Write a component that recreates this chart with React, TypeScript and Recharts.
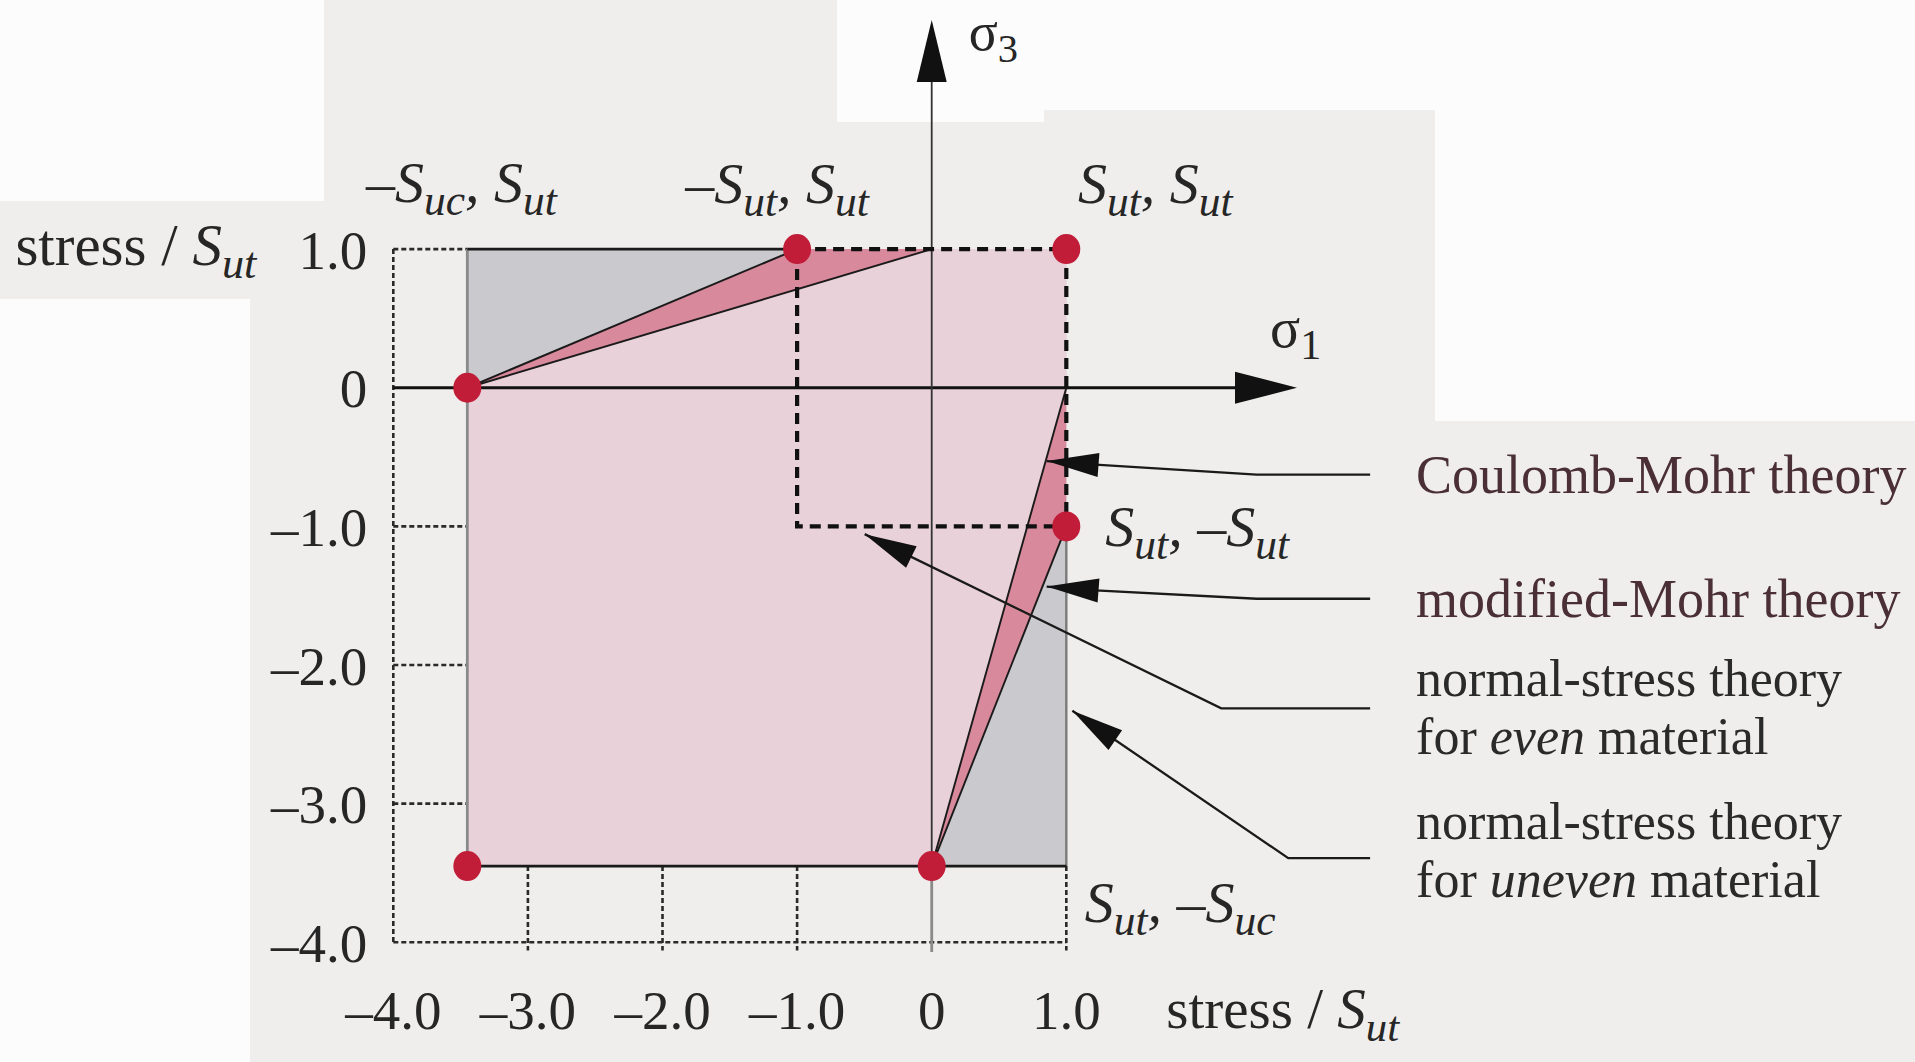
import React from "react";
import { ComposedChart, XAxis, YAxis, Area, Line, Scatter, ReferenceDot } from "recharts";

// strengths normalised by S_ut
const SUT = 1.0;
const SUC = 3.45;

const xTicks = [-4, -3, -2, -1, 0, 1];
const yTicks = [-4, -3, -2, -1, 0, 1];

// red corner points of the failure envelopes
const cornerX = [-SUC, -SUT, SUT, SUT, -SUC, 0];
const cornerY = [0, SUT, SUT, -SUT, -SUC, -SUC];

// labels: "~" italic, "_" italic subscript, "." upright subscript
const cornerLabels: { at: number; parts: string[]; dx: number; dy: number; anchor: string }[] = [
  { at: 0, parts: ["~–S", "_uc", "~, S", "_ut"], dx: -6, dy: -186, anchor: "middle" },
  { at: 1, parts: ["~–S", "_ut", "~, S", "_ut"], dx: -20, dy: -46, anchor: "middle" },
  { at: 2, parts: ["~S", "_ut", "~, S", "_ut"], dx: 89, dy: -46, anchor: "middle" },
  { at: 3, parts: ["~S", "_ut", "~, –S", "_ut"], dx: 39, dy: 20, anchor: "start" },
  { at: 5, parts: ["~S", "_ut", "~, –S", "_uc"], dx: 153, dy: 56, anchor: "start" },
];

// annotation call-outs (data units), tip is last point
const theoryNames = [
  ["Coulomb-Mohr theory"],
  ["modified-Mohr theory"],
  ["normal-stress theory", "for |~even| material"],
  ["normal-stress theory", "for |~uneven| material"],
];
const calloutX = [
  [3.257, 2.414, 1.217, 0.854],
  [3.257, 2.414, 1.217, 0.854],
  [3.257, 2.151, -0.498],
  [3.257, 2.649, 1.045],
];
const calloutY = [
  [-0.626, -0.626, -0.555, -0.529],
  [-1.522, -1.522, -1.461, -1.434],
  [-2.312, -2.312, -1.056],
  [-3.393, -3.393, -2.33],
];
const calloutAngle = [184.3, 184.3, 206.1, 214.4];
const calloutTextDy = [18, 18, -12, -19];
const calloutSize = [54, 54, 52, 52];
const calloutColor = ["#4a2f36", "#4a2f36", "#2a2a2a", "#2a2a2a"];

const SIGMA1_TIP = 2.714;
const SIGMA3_TIP = 2.652;

const SERIF = '"Liberation Serif", "Times New Roman", serif';
const INK = "#262626";
const RED = "#c11d38";
const GRAY_BOX = "#c9c9ce";
const PINK = "#e8d1d8";
const PINK_DARK = "#d9899c";

const pts = (xs: number[], ys: number[]) => xs.map((x, i) => ({ x, y: ys[i] }));

const grayBox = [
  { x: -SUC, r: [-SUC, SUT] },
  { x: SUT, r: [-SUC, SUT] },
];
const mohrWedgeTop = [
  { x: -SUC, r: [0, 0] },
  { x: -SUT, r: [0, SUT] },
  { x: 0, r: [0, SUT] },
];
const coulombRegion = [
  { x: -SUC, r: [-SUC, 0] },
  { x: 0, r: [-SUC, SUT] },
  { x: SUT, r: [0, SUT] },
];
const mohrWedgeBottom = [
  { x: 0, r: [-SUC, -SUC] },
  { x: SUT, r: [-SUT, 0] },
];

const coulombLines = [pts([-SUC, 0], [0, SUT]), pts([0, SUT], [-SUC, 0])];
const mohrLines = [pts([-SUC, -SUT], [0, SUT]), pts([0, SUT], [-SUC, -SUT])];
const evenSquare = pts([-SUT, SUT, SUT, -SUT, -SUT], [SUT, SUT, -SUT, -SUT, SUT]);

const dotted = [
  ...yTicks.filter((v) => v !== 0 && v !== -4).map((v) => pts([-4, -SUC], [v, v])),
  pts([-4, -4], [SUT, -4]),
  pts([-4, SUT], [-4, -4]),
  ...[-3, -2, -1, 1].map((v) => pts([v, v], [-SUC, -4.06])),
];

// one <text>, several lines; each line is a list of marked-up parts
function Rich({ x, y, lines, size, anchor = "start", fill = INK, gap = 58 }: any) {
  const out: React.ReactNode[] = [];
  lines.forEach((parts: string[], li: number) => {
    let down = false;
    parts.forEach((p: string, i: number) => {
      const kind = p[0];
      const first = i === 0 && li > 0;
      const key = li + "_" + i;
      if (kind === "_" || kind === ".") {
        const dy = down ? 0 : size * 0.22;
        down = true;
        out.push(
          <tspan key={key} dy={dy} fontSize={size * 0.75} fontStyle={kind === "_" ? "italic" : "normal"}>
            {p.slice(1)}
          </tspan>
        );
        return;
      }
      const dy = (down ? -size * 0.22 : 0) + (first ? gap : 0);
      down = false;
      const italic = kind === "~";
      out.push(
        <tspan key={key} x={first ? x : undefined} dy={dy} fontStyle={italic ? "italic" : "normal"}>
          {italic ? p.slice(1) : p}
        </tspan>
      );
    });
  });
  return (
    <text x={x} y={y} textAnchor={anchor} fontFamily={SERIF} fontSize={size} fill={fill}>
      {out}
    </text>
  );
}

const textAt = (lines: string[][], dx: number, dy: number, size: number, anchor = "start", fill = INK) => (p: any) => (
  <Rich x={p.cx + dx} y={p.cy + dy} lines={lines} size={size} anchor={anchor} fill={fill} />
);

const arrowHead = (len: number, half: number, angle: number) => (p: any) => (
  <polygon
    points={`0,0 ${-len},${-half} ${-len},${half}`}
    transform={`translate(${p.cx},${p.cy}) rotate(${angle})`}
    fill="#111"
  />
);

const fmt = (v: number) => (v === 0 ? "0" : (v < 0 ? "–" : "") + Math.abs(v).toFixed(1));

const seg = (data: any[], key: string, stroke: string, width: number, dash?: string) => (
  <Line
    key={key}
    data={data}
    dataKey="y"
    type="linear"
    stroke={stroke}
    strokeWidth={width}
    strokeDasharray={dash}
    dot={false}
    activeDot={false}
    legendType="none"
    isAnimationActive={false}
  />
);

const tickStyle = { fontFamily: SERIF, fontSize: 55, fill: INK };

export default function App() {
  const corners = pts(cornerX, cornerY);
  return (
    <div style={{ position: "absolute", left: 0, top: 0, width: 1915, height: 1062, background: "#efeeec", overflow: "hidden" }}>
      <div style={{ position: "absolute", left: 0, top: 0, width: 324, height: 201, background: "#fcfcfc" }} />
      <div style={{ position: "absolute", left: 0, top: 299, width: 250, height: 763, background: "#fcfcfc" }} />
      <div style={{ position: "absolute", left: 837, top: 0, width: 207, height: 122, background: "#fcfcfc" }} />
      <div style={{ position: "absolute", left: 1044, top: 0, width: 391, height: 110, background: "#fcfcfc" }} />
      <div style={{ position: "absolute", left: 1435, top: 0, width: 480, height: 421, background: "#fcfcfc" }} />
      <div style={{ position: "absolute", left: 0, top: 0 }}>
        <ComposedChart width={1915} height={1062} margin={{ top: 6.5, right: 0.7, bottom: 10, left: 293.3 }}>
          <XAxis
            type="number"
            dataKey="x"
            domain={[-4, 7.3]}
            ticks={xTicks}
            interval={0}
            axisLine={false}
            tickLine={false}
            tickSize={0}
            tickMargin={38}
            height={100}
            tickFormatter={fmt}
            tick={tickStyle}
          />
          <YAxis
            type="number"
            domain={[-4, 2.75]}
            ticks={yTicks}
            interval={0}
            axisLine={false}
            tickLine={false}
            tickSize={0}
            tickMargin={26}
            width={100}
            tickFormatter={fmt}
            tick={tickStyle}
          />

          <Area data={grayBox} dataKey="r" type="linear" stroke="none" fill={GRAY_BOX} fillOpacity={1} dot={false} activeDot={false} isAnimationActive={false} />
          <Area data={mohrWedgeTop} dataKey="r" type="linear" stroke="none" fill={PINK_DARK} fillOpacity={1} dot={false} activeDot={false} isAnimationActive={false} />
          <Area data={coulombRegion} dataKey="r" type="linear" stroke="none" fill={PINK} fillOpacity={1} dot={false} activeDot={false} isAnimationActive={false} />
          <Area data={mohrWedgeBottom} dataKey="r" type="linear" stroke="none" fill={PINK_DARK} fillOpacity={1} dot={false} activeDot={false} isAnimationActive={false} />

          {dotted.map((d, i) => seg(d, "dot" + i, "#2a2a2a", 2.6, "5 3"))}

          {seg(pts([-4, SIGMA1_TIP - 0.2], [0, 0]), "s1", "#111", 2.8)}
          {seg(pts([0, 0], [-SUC, SIGMA3_TIP - 0.2]), "s3", "#333", 1.8)}
          {seg(pts([0, 0], [-SUC, -4.07]), "s3low", "#8a8a8a", 2.8)}

          {seg(pts([-SUC, -SUC], [SUT, -SUC]), "boxL", "#8a8a8a", 2.8)}
          {seg(pts([SUT, SUT], [-SUT, -SUC]), "boxR", "#7a7a7a", 2.4)}
          {seg(pts([-SUC, -SUT], [SUT, SUT]), "boxT", "#1a1a1a", 2.8)}
          {seg(pts([-SUC, SUT], [-SUC, -SUC]), "boxB", "#1a1a1a", 2.8)}

          {coulombLines.map((d, i) => seg(d, "cm" + i, "#1a1a1a", 1.9))}
          {mohrLines.map((d, i) => seg(d, "mm" + i, "#1a1a1a", 1.9))}
          {seg(evenSquare, "even", "#111", 4.2, "11 7")}

          {calloutX.map((xs, i) => seg(pts(xs, calloutY[i]), "co" + i, "#1a1a1a", 2.3))}

          <Scatter
            data={corners}
            dataKey="y"
            fill={RED}
            isAnimationActive={false}
            shape={(p: any) => <ellipse cx={p.cx} cy={p.cy} rx={14} ry={15} fill={RED} />}
          />

          <ReferenceDot x={SIGMA1_TIP} y={0} ifOverflow="visible" shape={arrowHead(62, 16, 0)} />
          <ReferenceDot x={0} y={SIGMA3_TIP} ifOverflow="visible" shape={arrowHead(62, 15, -90)} />
          <ReferenceDot x={SIGMA1_TIP} y={0} ifOverflow="visible" shape={textAt([["σ", ".1"]], -27, -41, 56)} />
          <ReferenceDot x={0} y={SIGMA3_TIP} ifOverflow="visible" shape={textAt([["σ", ".3"]], 37, 30, 54)} />

          {calloutX.map((xs, i) => (
            <ReferenceDot
              key={"ah" + i}
              x={xs[xs.length - 1]}
              y={calloutY[i][xs.length - 1]}
              ifOverflow="visible"
              shape={arrowHead(52, 12, calloutAngle[i])}
            />
          ))}
          {theoryNames.map((lines, i) => (
            <ReferenceDot
              key={"t" + i}
              x={calloutX[i][0]}
              y={calloutY[i][0]}
              ifOverflow="visible"
              shape={textAt(lines.map((l) => l.split("|")), 46, calloutTextDy[i], calloutSize[i], "start", calloutColor[i])}
            />
          ))}

          {cornerLabels.map((l, i) => (
            <ReferenceDot key={"cl" + i} x={cornerX[l.at]} y={cornerY[l.at]} ifOverflow="visible" shape={textAt([l.parts], l.dx, l.dy, 58, l.anchor)} />
          ))}

          <ReferenceDot x={-4} y={SUT} ifOverflow="visible" shape={textAt([["stress / ", "~S", "_ut"]], -137, 16, 59, "end")} />
          <ReferenceDot x={SUT} y={-4} ifOverflow="visible" shape={textAt([["stress / ", "~S", "_ut"]], 100, 86, 57, "start")} />
        </ComposedChart>
      </div>
    </div>
  );
}
